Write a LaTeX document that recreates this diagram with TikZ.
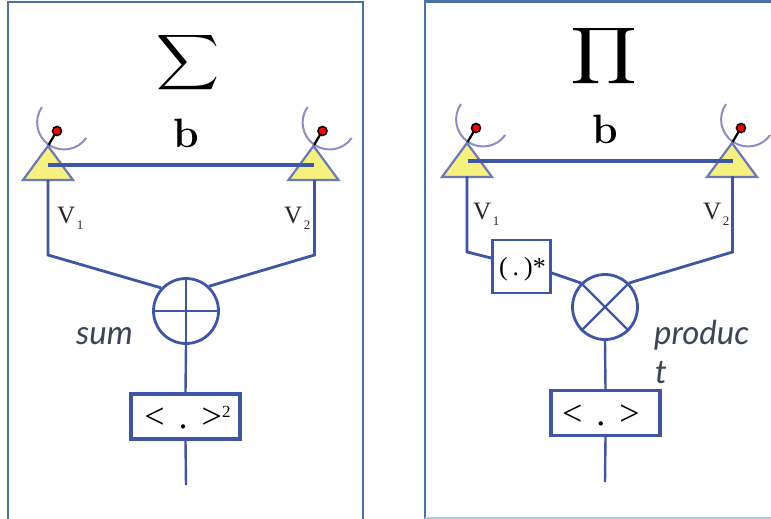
\documentclass[tikz,border=0pt]{standalone}
\usepackage{graphicx}
\usepackage{fontspec}
\newfontfamily\timesfont{Liberation Serif}
\newfontfamily\labelfont{Lato}
\usetikzlibrary{calc}
\definecolor{wire}{HTML}{3F55A5}
\definecolor{panel}{HTML}{4A72A6}
\definecolor{dish}{HTML}{8C8CC8}
\definecolor{tri}{HTML}{F6F17E}
\definecolor{tritrim}{HTML}{6A78BC}
\definecolor{ink}{HTML}{3A4656}
\tikzset{
  panelline/.style={draw=panel,line width=2.4pt},
  wireline/.style={draw=wire,line width=2.8pt},
  baseline/.style={draw=wire,line width=3.4pt},
  thinwire/.style={draw=wire,line width=2.4pt},
  mixer/.style={circle,draw=wire,line width=2.8pt,minimum size=65pt,inner sep=0pt,fill=white},
  opbox/.style={rectangle,draw=wire,line width=3.4pt,inner sep=0pt,fill=white},
  conjbox/.style={rectangle,draw=wire,line width=2.6pt,inner sep=0pt,fill=white},
  optext/.style={inner sep=0pt,anchor=base,font=\timesfont\fontsize{36}{36}\selectfont},
  conjtext/.style={inner sep=0pt,anchor=base,font=\timesfont\fontsize{26}{26}\selectfont},
  voltage/.style={inner sep=0pt,anchor=base west,font=\timesfont\fontsize{25}{25}\selectfont,text=black!85},
  basetext/.style={inner sep=0pt,font=\bfseries\fontsize{41}{41}\selectfont},
  oplabel/.style={inner sep=0pt,anchor=base west,font=\labelfont\itshape\fontsize{33}{33}\selectfont,text=ink},
  dishline/.style={draw=dish,line width=2pt},
  antenna/.style={fill=tri,draw=tritrim,line width=2.2pt,line join=miter},
}
\newcommand{\Vsub}[1]{V\raisebox{-6pt}{\hspace{1.5pt}\fontsize{13}{13}\selectfont #1}}
\newcommand{\drawdish}[1]{%
  \draw[dishline] ($(#1)+(-6,-39)$) arc[start angle=145,end angle=325,radius=27pt];
  \draw[black,line width=2.2pt] (#1) -- ($(#1)+(7,-12)$);
  \node[circle,fill=red,draw=black,line width=1.6pt,minimum size=9pt,inner sep=0pt] at ($(#1)+(9,-15)$) {};
}
\newcommand{\drawtri}[1]{%
  \draw[antenna] (#1) -- ($(#1)+(-25,34)$) -- ($(#1)+(25,34)$) -- cycle;
}
\begin{document}
\begin{tikzpicture}[x=1pt,y=-1pt]
\useasboundingbox (0,0) rectangle (771,519);
\fill[white] (0,0) rectangle (771,519);
% panels
\draw[panelline] (8,519) -- (8,2) -- (363,2) -- (363,519);
\draw[panelline] (425,519) -- (425,1.5) -- (771,1.5);
\draw[draw=panel!40,line width=1.5pt] (425,518) -- (771,518);

% ---- left
\coordinate (la) at (48,146);
\coordinate (lb) at (313.5,146);
\coordinate (la0) at (48,180);
\coordinate (lb0) at (314.5,180);
\coordinate (lak) at (48,255);
\coordinate (lbk) at (314.5,255);
\coordinate (lbaseA) at (48,165);
\coordinate (lbaseB) at (314,165);
\drawdish{la}\drawdish{lb}
\drawtri{la}\drawtri{lb}
\draw[baseline] (lbaseA) -- (lbaseB);
\node[mixer] (sumc) at (186,311) {};
\node[opbox,minimum width=109pt,minimum height=45pt] (sumbox) at (185.5,416.5) {};
\node[optext] (sumtxt) at (187.5,428) {<\hspace{14pt}.\hspace{14pt}>\raisebox{11pt}{\fontsize{17}{17}\selectfont 2}};
\coordinate (lend) at (186,485);
\draw[wireline,line join=miter] (la0) -- (lak) -- (sumc.137);
\draw[wireline,line join=miter] (lb0) -- (lbk) -- (sumc.47);
\draw[thinwire] (sumc.north) -- (sumc.south);
\draw[thinwire] (sumc.west) -- (sumc.east);
\draw[thinwire] (sumc.south) -- (sumbox.north);
\draw[thinwire] (sumbox.south) -- (lend);
\node[basetext] (bl) at (186,133) {b};
\node[voltage] (v1l) at (57,223) {\Vsub{1}};
\node[voltage] (v2l) at (284,223) {\Vsub{2}};
\node[oplabel] (sumt) at (76,344) {sum};
\node[inner sep=0pt] (sigma) at (188,62.5) {\resizebox*{63pt}{62pt}{$\displaystyle\sum$}};

% ---- right
\coordinate (ra) at (467,143);
\coordinate (rb) at (732,143);
\coordinate (ra0) at (467,176);
\coordinate (rb0) at (732.5,176);
\coordinate (rak) at (467,252);
\coordinate (rbk) at (732.5,252);
\coordinate (rbaseA) at (468,161);
\coordinate (rbaseB) at (733,161);
\drawdish{ra}\drawdish{rb}
\drawtri{ra}\drawtri{rb}
\draw[draw=wire,line width=3.8pt] (rbaseA) -- (rbaseB);
\node[mixer] (prodc) at (605,307) {};
\node[conjbox,minimum width=58pt,minimum height=53pt] (conj) at (521.5,266.5) {};
\node[conjtext] (conjtxt) at (522.5,275) {(\hspace{5pt}.\hspace{5pt})*};
\node[opbox,minimum width=109pt,minimum height=45pt] (prodbox) at (605.5,413) {};
\node[optext] (prodtxt) at (601,425) {<\hspace{14pt}.\hspace{14pt}>};
\coordinate (rend) at (605,482);
\draw[wireline,line join=miter] (ra0) -- (rak) -- (conj.west |- 0,258);
\draw[wireline] (conj.east |- 0,273) -- (prodc.135);
\draw[wireline,line join=miter] (rb0) -- (rbk) -- (prodc.45);
\draw[thinwire] (prodc.135) -- (prodc.-45);
\draw[thinwire] (prodc.45) -- (prodc.-135);
\draw[thinwire] (prodc.south) -- (prodbox.north);
\draw[thinwire] (prodbox.south) -- (rend);
\node[basetext] (br) at (605,129) {b};
\node[voltage] (v1r) at (473,219) {\Vsub{1}};
\node[voltage] (v2r) at (703,219) {\Vsub{2}};
\node[oplabel] (prodt) at (654,344) {produc};
\node[oplabel] (prodt2) at (655,383) {t};
\node[inner sep=0pt] (pi) at (604,56.5) {\resizebox*{67pt}{63pt}{$\displaystyle\prod$}};
\end{tikzpicture}
\end{document}
